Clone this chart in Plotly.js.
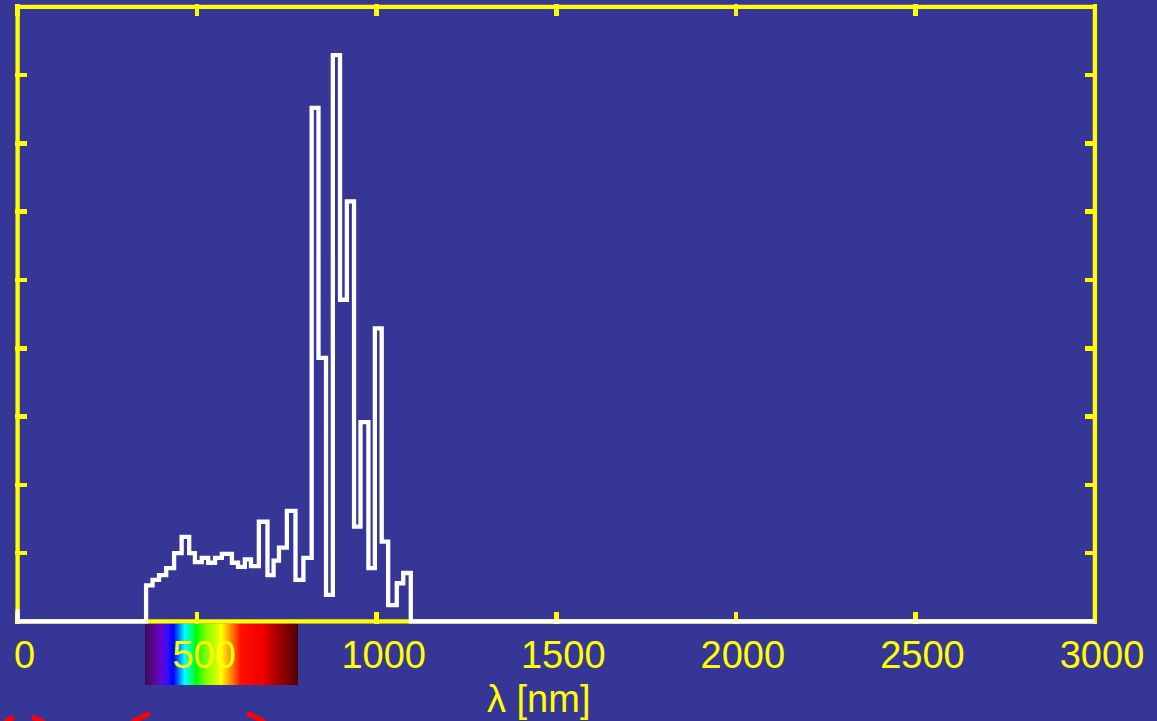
<!DOCTYPE html>
<html>
<head>
<meta charset="utf-8">
<script src="https://cdn.plot.ly/plotly-3.0.1.min.js"></script>
<style>
html,body{margin:0;padding:0;background:#363696;}
#chart{width:1157px;height:721px;}
</style>
</head>
<body>
<div id="chart"></div>
<script>
// ---- data ----
// step histogram: left edge of each step (nm) and its value
const stepNm  = [0, 0, 358, 376, 394, 414, 436, 457, 478, 494, 513, 531, 550, 569, 597, 614, 633, 650, 672, 696, 713,
                 728, 750, 774, 796, 819, 838, 859, 878, 898, 917, 937, 955, 977, 995, 1014, 1032, 1056, 1074, 1095, 3000];
const stepVal = [0.18, 0, 0.53, 0.61, 0.68, 0.78, 1.00, 1.24, 1.00, 0.87, 0.93, 0.86, 0.93, 0.99, 0.86, 0.80, 0.91, 0.81, 1.46, 0.68, 0.89,
                 1.08, 1.62, 0.61, 0.93, 7.52, 3.86, 0.39, 8.29, 4.71, 6.15, 1.39, 2.92, 0.78, 4.29, 1.17, 0.24, 0.56, 0.71, 0, 0];

const xTickVals   = [0, 500, 1000, 1500, 2000, 2500, 3000];
const xTickLabels = ['0', '500', '1000', '1500', '2000', '2500', '3000'];
const yTickVals   = [1, 2, 3, 4, 5, 6, 7, 8];
const xTitle = 'λ [nm]';

// visible-spectrum strip under the axis
const spectrumNm     = [353, 375, 395, 410, 425, 445, 455, 470, 485, 510, 535, 550, 565, 580, 600, 660, 700, 752];
const spectrumColors = ['#3c0a5c', '#560a90', '#6a00d0', '#3010ff', '#0000ff', '#00a0ff', '#00ffff', '#00ff90', '#00ff00',
                        '#80ff00', '#c8ff00', '#ffff00', '#ffc000', '#ff7800', '#ff1000', '#f00000', '#a00000', '#500000'];

// ---- styling ----
const BG = '#363696';
const YEL = '#ffff00';
const W = 1157, H = 721;
const FONT = 'Liberation Sans, Arial, sans-serif';

// frame centre lines (px) and the plot area a half-line-width outside them
const LW = 4.5, HW = LW / 2;
const fL = 17.5, fR = 1095, fT = 6.7, fB = 621.5;
const pxPerNm = (fR - fL) / 3000;
const pxPerUnit = (fB - fT) / 9;
const xRange = [-HW / pxPerNm, 3000 + HW / pxPerNm];
const yRange = [-HW / pxPerUnit, 9 + HW / pxPerUnit];

const sMin = spectrumNm[0], sMax = spectrumNm[spectrumNm.length - 1];
const specScale = spectrumNm.map((v, i) => [(v - sMin) / (sMax - sMin), spectrumColors[i]]);

const traces = [
  {
    type: 'heatmap', xaxis: 'x', yaxis: 'y',
    x: spectrumNm, y: [0], z: [spectrumNm],
    colorscale: specScale, zmin: sMin, zmax: sMax,
    zsmooth: 'best', showscale: false, hoverinfo: 'skip'
  },
  {
    type: 'scatter', mode: 'lines', xaxis: 'x2', yaxis: 'y2',
    x: stepNm, y: stepVal,
    line: {shape: 'hv', color: '#ffffff', width: 4.3},
    hoverinfo: 'skip', showlegend: false
  }
];

const layout = {
  width: W, height: H,
  margin: {l: 0, r: 0, t: 0, b: 0},
  paper_bgcolor: BG, plot_bgcolor: 'rgba(0,0,0,0)',
  showlegend: false,
  xaxis: {domain: [145 / W, 298 / W], range: [sMin, sMax], visible: false, fixedrange: true},
  yaxis: {domain: [1 - 685 / H, 1 - 623.3 / H], range: [-0.5, 0.5], visible: false, fixedrange: true},
  xaxis2: {
    domain: [(fL - HW) / W, (fR + HW) / W], anchor: 'y2',
    range: xRange, showgrid: false, zeroline: false, showline: false,
    tickmode: 'array', tickvals: xTickVals, ticktext: xTickLabels,
    ticks: 'inside', ticklen: 12, tickwidth: LW, tickcolor: YEL, mirror: 'ticks',
    tickfont: {family: FONT, size: 38, color: YEL},
    ticklabelstandoff: 5, ticklabelshift: 7,
    layer: 'below traces'
  },
  yaxis2: {
    domain: [1 - (fB + HW) / H, 1 - (fT - HW) / H], anchor: 'x2',
    range: yRange, showgrid: false, zeroline: false, showline: false,
    tickmode: 'array', tickvals: yTickVals, showticklabels: false,
    ticks: 'inside', ticklen: 12, tickwidth: LW, tickcolor: YEL, mirror: 'ticks',
    layer: 'below traces'
  },
  shapes: [
    {type: 'rect', xref: 'x2', yref: 'y2', x0: 0, x1: 3000, y0: 0, y1: 9,
     line: {color: YEL, width: LW}, layer: 'below'},
    // red marks cut by the bottom edge
    {type: 'line', xref: 'paper', yref: 'paper', x0: 132 / W, y0: 1 - 722 / H, x1: 150 / W, y1: 1 - 713 / H,
     line: {color: '#ff0000', width: 5}},
    {type: 'line', xref: 'paper', yref: 'paper', x0: 247 / W, y0: 1 - 713 / H, x1: 265 / W, y1: 1 - 722 / H,
     line: {color: '#ff0000', width: 5}},
    {type: 'line', xref: 'paper', yref: 'paper', x0: 5 / W, y0: 1 - 722 / H, x1: 14 / W, y1: 1 - 717 / H,
     line: {color: '#ff0000', width: 5}},
    {type: 'line', xref: 'paper', yref: 'paper', x0: 32 / W, y0: 1 - 717 / H, x1: 44 / W, y1: 1 - 722 / H,
     line: {color: '#ff0000', width: 5}}
  ],
  annotations: [
    {text: xTitle, xref: 'paper', yref: 'paper', x: 538 / W, y: 1 - 699 / H,
     xanchor: 'center', yanchor: 'middle', showarrow: false,
     font: {family: FONT, size: 38, color: YEL}}
  ]
};

Plotly.newPlot('chart', traces, layout, {displayModeBar: false, staticPlot: true});
</script>
</body>
</html>
